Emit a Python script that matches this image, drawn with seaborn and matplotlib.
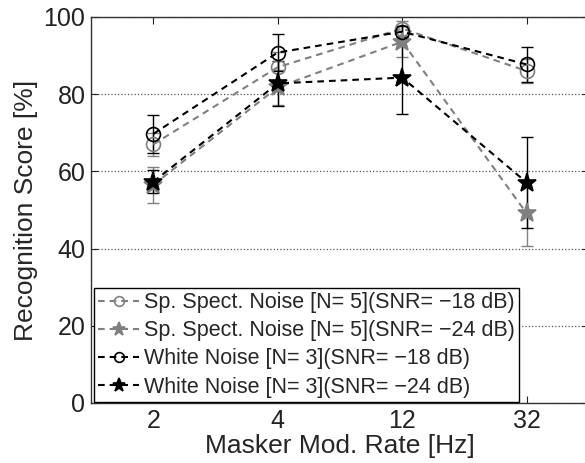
import matplotlib
matplotlib.use("Agg")
import matplotlib.pyplot as plt
import numpy as np
import pandas as pd
import seaborn as sns

rates = ["2", "4", "12", "32"]

sp_18 = [67.0, 87.0, 97.0, 86.0]
sp_18_err = [3.0, 4.0, 2.0, 3.0]
sp_24 = [56.5, 81.8, 93.6, 49.1]
sp_24_err = [4.6, 4.5, 4.0, 8.3]
wn_18 = [69.7, 90.8, 96.2, 87.7]
wn_18_err = [5.0, 4.7, 1.5, 4.6]
wn_24 = [57.3, 82.8, 84.3, 57.1]
wn_24_err = [3.0, 5.8, 9.5, 11.7]

labels = [
    "Sp. Spect. Noise [N= 5](SNR= \u221218 dB)",
    "Sp. Spect. Noise [N= 5](SNR= \u221224 dB)",
    "White Noise [N= 3](SNR= \u221218 dB)",
    "White Noise [N= 3](SNR= \u221224 dB)",
]

sns.set_style("ticks")
plt.rcParams["font.family"] = ["Liberation Sans", "DejaVu Sans"]

gray = "#808080"
series = [
    (sp_18, sp_18_err, gray, "o", 10, "none"),
    (sp_24, sp_24_err, gray, "*", 14, gray),
    (wn_18, wn_18_err, "black", "o", 10, "none"),
    (wn_24, wn_24_err, "black", "*", 14, "black"),
]

fig = plt.figure(figsize=(5.85, 4.63), dpi=100)
ax = fig.add_axes([91 / 585, 60 / 463, 498 / 585, 386 / 463])

pos = np.arange(1, len(rates) + 1)
for (vals, err, col, mk, ms, fc), lab in zip(series, labels):
    ax.errorbar(pos, vals, yerr=err, fmt="none", ecolor=col, elinewidth=1.0,
                capsize=4, capthick=1.0, zorder=2)
    sns.lineplot(x=pos, y=vals, ax=ax, color=col, linewidth=1.5,
                 dashes=False, marker=mk, markersize=ms, markerfacecolor=fc,
                 markeredgecolor=col, markeredgewidth=1.2, label=lab, zorder=3)
    ax.lines[-1].set_dashes((3.2, 2.4))

ax.set_xlim(0.5, 4.5)
ax.set_ylim(0, 100)
ax.set_xticks(pos)
ax.set_xticklabels(rates)
ax.set_yticks([0, 20, 40, 60, 80, 100])
ax.yaxis.grid(True, linestyle=":", color="#555555", linewidth=0.9)
ax.tick_params(direction="in", top=True, right=True, labelsize=18, length=5,
               width=0.8, colors="#222222", pad=4)
for s in ax.spines.values():
    s.set_linewidth(1.0)
    s.set_color("#333333")

ax.set_xlabel("Masker Mod. Rate [Hz]", fontsize=19, labelpad=1)
ax.set_ylabel("Recognition Score [%]", fontsize=19, labelpad=4)

leg = ax.legend(loc="lower left", bbox_to_anchor=(0.006, 0.003), fontsize=15.5,
                frameon=True, fancybox=False, framealpha=1, edgecolor="black",
                handlelength=1.9, handletextpad=0.2, borderpad=0.2,
                labelspacing=0.33, borderaxespad=0, markerscale=0.7)
leg.get_frame().set_linewidth(1.0)
for h in leg.get_lines():
    h.set_dashes((3.2, 2.4))

fig.savefig("out.png", dpi=100)
